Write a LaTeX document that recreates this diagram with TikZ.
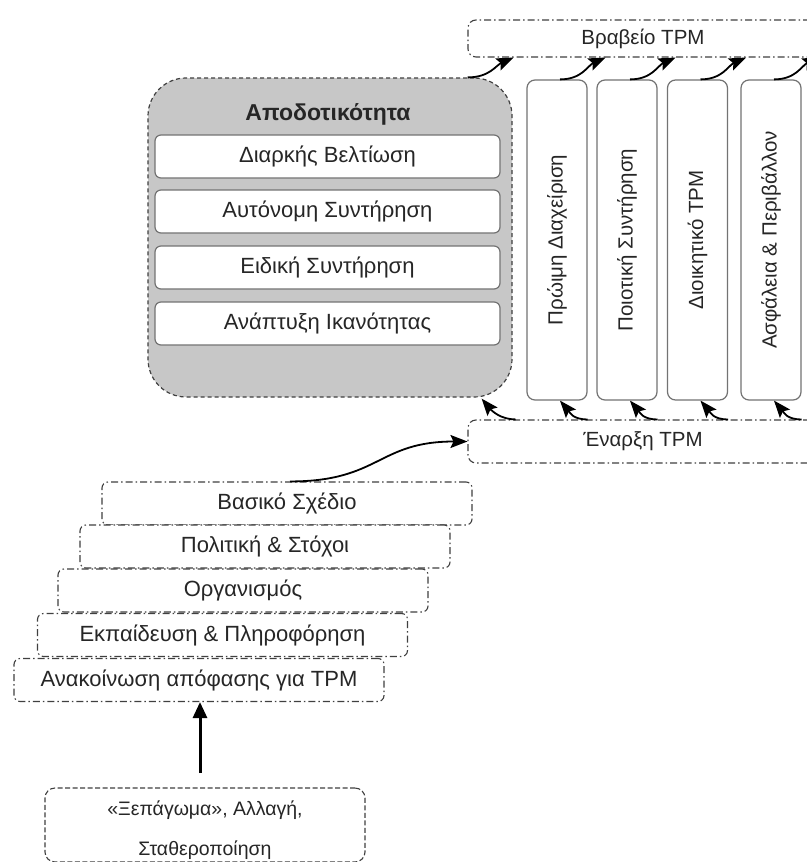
\documentclass[tikz,border=0pt]{standalone}
\usepackage{fontspec}
\setmainfont{Liberation Sans}
\usetikzlibrary{arrows.meta,calc}
\begin{document}
\begin{tikzpicture}[x=1pt,y=-1pt,
  font=\fontsize{22}{24}\selectfont,
  txt/.style={text=black!85},
  small/.style={font=\fontsize{20.5}{23}\selectfont},
  dd/.style={draw=black!75, line width=1.1pt, dash pattern=on 7pt off 3pt on 1.5pt off 3pt, rounded corners=6pt, inner sep=0pt, txt},
  inbox/.style={draw=black!55, fill=white, line width=1.2pt, rounded corners=6pt, minimum width=345pt, minimum height=43pt, inner sep=0pt, txt},
  pillar/.style={draw=black!55, fill=white, line width=1.2pt, rounded corners=8pt, minimum width=60pt, minimum height=320pt, inner sep=0pt},
  stair/.style={dd, fill=white, minimum width=370pt, minimum height=43pt},
  carr/.style={line width=1.8pt, -{Stealth[length=17pt,width=13pt,inset=3pt]}},
]
\useasboundingbox (0,0) rectangle (806,862);
\fill[white] (0,0) rectangle (806,862);

% top and start bands
\node[dd, small, minimum width=350pt, minimum height=37pt, rounded corners=8pt] (br) at (643,38.5) {Βραβείο TPM};
\node[dd, small, minimum width=350pt, minimum height=43pt, rounded corners=8pt] (en) at (643,441.5) {Έναρξη TPM};

% efficiency box
\node[draw=black!75, fill=black!22, line width=1.2pt, dash pattern=on 4pt off 3pt, rounded corners=38pt, minimum width=364pt, minimum height=319pt, inner sep=0pt] (eff) at (330,237.5) {};
\node[txt, font=\fontsize{23}{26}\selectfont\bfseries] (efft) at (328,114) {Αποδοτικότητα};
\node[inbox] (i1) at (327.5,156.5) {Διαρκής Βελτίωση};
\node[inbox] (i2) at (327.5,211.5) {Αυτόνομη Συντήρηση};
\node[inbox] (i3) at (327.5,267.5) {Ειδική Συντήρηση};
\node[inbox] (i4) at (327.5,323.5) {Ανάπτυξη Ικανότητας};

% pillars
\node[pillar] (p1) at (557,240) {};
\node[pillar] (p2) at (627,240) {};
\node[pillar] (p3) at (697.5,240) {};
\node[pillar] (p4) at (771,240) {};
\node[txt, small, rotate=90] (p1t) at (p1.center) {Πρώιμη Διαχείριση};
\node[txt, small, rotate=90] (p2t) at (p2.center) {Ποιοτική Συντήρηση};
\node[txt, small, rotate=90] (p3t) at (p3.center) {Διοικητικό TPM};
\node[txt, small, rotate=90] (p4t) at (p4.center) {Ασφάλεια \& Περιβάλλον};

% staircase
\node[stair] (bas) at (287,503.5) {Βασικό Σχέδιο};
\node[stair] (pol) at (265,546.5) {Πολιτική \& Στόχοι};
\node[stair] (org) at (243,590.5) {Οργανισμός};
\node[stair] (ekp) at (222.5,635) {Εκπαίδευση \& Πληροφόρηση};
\node[stair] (ana) at (199,680) {Ανακοίνωση απόφασης για TPM};

% bottom box
\node[draw=black!75, line width=1.1pt, dash pattern=on 5pt off 2.5pt, rounded corners=10pt, minimum width=320pt, minimum height=74pt, inner sep=0pt] (unf) at (205,825) {};
\node[txt, align=center, font=\fontsize{19.5}{40}\selectfont] (unft) at (205,830) {«Ξεπάγωμα», Αλλαγή,\\Σταθεροποίηση};

% connectors
\coordinate (vs) at (200,773);
\draw[line width=3pt, -{Triangle[length=16pt,width=14pt]}] (vs) -- (vs |- ana.south);

\coordinate (bs) at ($(bas.north)+(3,0)$);
\draw[carr] (bs) .. controls ($(bs)+(90,0)$) and ($(en.west)+(-90,0)$) .. (en.west);

% top arrows
\coordinate (es) at ($(eff.north east)+(-45,0)$);
\coordinate (ee) at ($(eff.north east |- br.south)+(1,0)$);
\draw[carr] (es) .. controls ($(es)+(22,0)$) and ($(ee)+(-18,8)$) .. (ee);
\foreach \p in {p1,p2,p3,p4}{
  \coordinate (\p s) at ($(\p.north)+(3,0)$);
  \coordinate (\p e) at ($(\p.north east |- br.south)+(18,0)$);
  \draw[carr] (\p s) .. controls ($(\p s)+(22,0)$) and ($(\p e)+(-18,8)$) .. (\p e);
}
% bottom arrows
\coordinate (fs) at ($(eff.south east |- en.north)+(3,0)$);
\coordinate (fe) at ($(eff.south east)+(-31,1)$);
\draw[carr] (fs) .. controls ($(fs)+(-15,0)$) and ($(fe)+(10,12)$) .. (fe);
\foreach \p in {p1,p2,p3,p4}{
  \coordinate (\p b) at (\p.east |- en.north);
  \coordinate (\p t) at ($(\p.south)+(3,0)$);
  \draw[carr] (\p b) .. controls ($(\p b)+(-15,0)$) and ($(\p t)+(10,12)$) .. (\p t);
}
\end{tikzpicture}
\end{document}
